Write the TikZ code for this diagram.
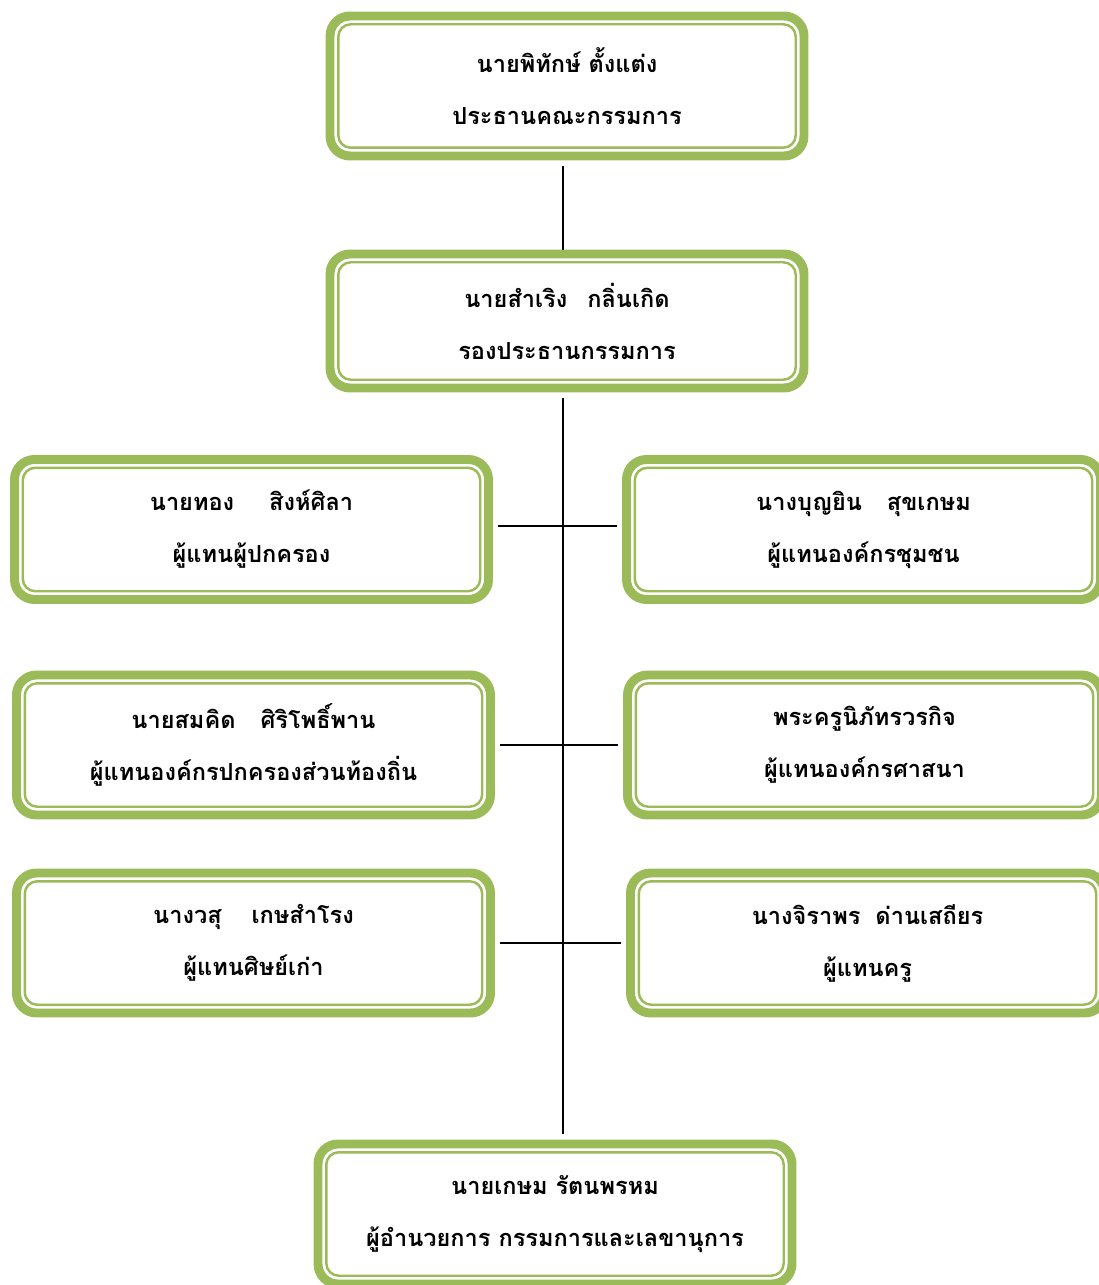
\documentclass[tikz,border=0pt]{standalone}
\usepackage{fontspec}
\newfontfamily\thaifont[Script=Thai]{Loma}
\usetikzlibrary{positioning,calc}
\definecolor{boxgreen}{HTML}{9BBB59}

\tikzset{
  member/.style={draw=boxgreen, line width=5.1pt, rounded corners=0.4cm, fill=white,
    minimum width=9.48cm, minimum height=2.8cm, align=center,
    font=\thaifont\bfseries\fontsize{13.4}{29.6}\selectfont},
  innerframe/.style={draw=boxgreen, line width=1.4pt, rounded corners=0.25cm},
  link/.style={draw=black, line width=0.9pt}
}

\begin{document}
\begin{tikzpicture}
  \useasboundingbox (0,0) rectangle (21.98,-25.7);

  % ---- spine of the chart ----
  \coordinate (spine) at (11.26,0);

  % ---- top ----
  \node[member] (chair) at (11.34,-1.72) {นายพิทักษ์ ตั้งแต่ง\\ประธานคณะกรรมการ};
  \node[member, minimum height=2.68cm] (vice) at (11.34,-6.42) {นายสำเริง\hspace{0.4cm}กลิ่นเกิด\\รองประธานกรรมการ};

  % ---- members, left and right ----
  \node[member] (parent) at (5.03,-10.59) {นายทอง\hspace{0.7cm}สิงห์ศิลา\\ผู้แทนผู้ปกครอง};
  \node[member] (community) at (17.27,-10.59) {นางบุญยิน\hspace{0.5cm}สุขเกษม\\ผู้แทนองค์กรชุมชน};
  \node[member] (localgov) at (5.07,-14.9) {นายสมคิด\hspace{0.5cm}ศิริโพธิ์พาน\\ผู้แทนองค์กรปกครองส่วนท้องถิ่น};
  \node[member] (religion) at (17.29,-14.9) {พระครูนิภัทรวรกิจ\\ผู้แทนองค์กรศาสนา};
  \node[member] (alumni) at (5.07,-18.86) {นางวสุ\hspace{0.6cm}เกษสำโรง\\ผู้แทนศิษย์เก่า};
  \node[member] (teacher) at (17.35,-18.86) {นางจิราพร\hspace{0.3cm}ด่านเสถียร\\ผู้แทนครู};

  % ---- bottom ----
  \node[member] (director) at (11.1,-24.28) {นายเกษม รัตนพรหม\\ผู้อำนวยการ กรรมการและเลขานุการ};

  % inner thin frames
  \foreach \n in {chair,vice,parent,community,localgov,religion,alumni,teacher,director}
    \draw[innerframe] ([shift={(0.255,-0.255)}]\n.north west) rectangle ([shift={(-0.255,0.255)}]\n.south east);

  % ---- connectors ----
  \draw[link] ($(chair.south -| spine)+(0,-0.12)$) -- (vice.north -| spine);
  \draw[link] ($(vice.south -| spine)+(0,-0.12)$) -- ($(director.north -| spine)+(0,0.12)$);
  \draw[link, shorten <=0.1cm, shorten >=0.1cm] ([yshift=0.07cm]parent.east) -- ([yshift=0.07cm]community.west);
  \draw[link, shorten <=0.1cm, shorten >=0.1cm] (localgov.east) -- (religion.west);
  \draw[link, shorten <=0.1cm, shorten >=0.1cm] (alumni.east) -- (teacher.west);

\end{tikzpicture}
\end{document}
